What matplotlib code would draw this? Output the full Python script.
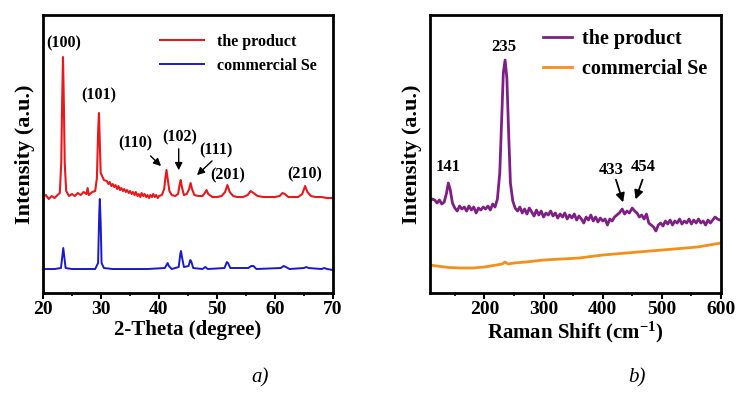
import matplotlib
matplotlib.use('Agg')
from matplotlib import pyplot as plt

# XRD, panel a)  (2-theta, intensity a.u.)
red_x = [20, 20.5, 21, 21.5, 22, 22.5, 22.9, 23.15, 23.3, 23.45, 23.6, 23.75, 24.0, 24.5, 25, 25.5,
         26, 26.5, 27, 27.5, 27.7, 27.9, 28.5, 29.0, 29.3, 29.5, 29.65, 29.8, 29.95, 30.2, 30.5, 31,
         31.3, 31.5, 31.8, 32, 32.3, 32.5, 32.8, 33, 33.3, 33.5, 33.8, 34, 34.3, 34.5, 34.8, 35,
         35.3, 35.5, 35.8, 36, 36.3, 36.5, 36.8, 37, 37.3, 37.5, 37.8, 38, 38.3, 38.5, 38.8, 39,
         39.3, 39.5, 39.8, 40,
         40.5, 40.9, 41.1, 41.3, 41.5, 41.8, 42.2, 42.8, 43.3, 43.55, 43.75, 43.95, 44.3, 44.8, 45.2,
         45.45, 45.7, 46.1, 46.8, 47.5, 47.9, 48.2, 48.5, 49.2, 50, 50.8, 51.4, 51.8, 52.2, 52.8,
         53.5, 54.5, 55.3, 55.8, 56.3, 57, 58, 59, 60, 60.8, 61.3, 61.7, 62.3, 63, 64, 64.7, 65.2,
         65.6, 66.2, 67, 68, 69, 70]
red_y = [96, 98, 94, 97, 95, 98, 100, 130, 190, 236, 190, 130, 102, 97, 99, 97,
         100, 98, 101, 99, 105, 98, 101, 102, 115, 160, 180, 150, 120, 117, 113, 112,
         109, 111, 107, 109, 106, 108, 104, 107, 103, 105, 102, 104, 101, 103, 100, 102,
         99, 101, 98, 101, 97, 99, 96, 100, 97, 99, 96, 98, 95, 98, 96, 99,
         96, 98, 95, 97,
         98, 104, 115, 123, 114, 102, 98, 97, 99, 108, 113, 106, 98, 99, 104,
         110, 104, 98, 97, 97, 100, 103, 99, 96, 96, 97, 101, 108, 101, 97,
         96, 96, 98, 102, 100, 97, 96, 96, 96, 97, 100, 99, 96, 96, 96, 99, 107,
         101, 97, 96, 96, 95, 95]
blue_x = [20, 22, 23.1, 23.3, 23.5, 23.7, 23.9, 25, 27, 29, 29.5, 29.7, 29.8, 29.95, 30.1, 30.5,
          32, 35, 38, 41.0, 41.3, 41.5, 41.7, 42.2, 43.4, 43.7, 43.8, 44.0, 44.3, 45.1, 45.4,
          45.6, 45.9, 47.5, 48.0, 48.4, 51.3, 51.7, 51.9, 52.3, 55.4, 55.9, 56.3, 56.8, 61.0,
          61.5, 61.9, 62.5, 65.0, 65.4, 65.8, 68.0, 68.5, 69, 70]
blue_y = [24, 24, 25, 35, 45, 35, 25, 24, 24, 24, 30, 80, 94, 70, 30, 25,
          24, 24, 24, 25, 28, 30, 27, 24, 26, 40, 42, 35, 26, 27, 33,
          31, 25, 24, 26, 24, 25, 31, 30, 25, 25, 27, 27, 24, 25,
          27, 26, 24, 25, 26, 25, 24, 25, 24, 23]
xrd_labels = ['(100)', '(101)', '(110)', '(102)', '(111)', '(201)', '(210)']
xrd_label_x = [23.6, 29.6, 35.9, 43.6, 49.9, 51.9, 65.2]
xrd_label_y = [250, 198, 150, 156, 143, 118, 119]

# Raman, panel b)  (shift cm-1, intensity a.u.)
purple_x = [108, 112, 116, 120, 124, 128, 132, 136, 139, 142, 146, 150, 154, 158, 162, 166, 170,
            174, 178, 182, 186, 190, 194, 198, 202, 206, 210, 214, 218, 222, 226, 229, 232, 235,
            238, 241, 244, 248, 252, 256, 260, 264, 268, 272, 276, 280, 284, 288, 292, 296, 300,
            304, 308, 312, 316, 320, 324, 328, 332, 336, 340, 344, 348, 352, 356, 360, 364, 368,
            372, 376, 380, 384, 388, 392, 396, 400, 404, 408, 412, 416, 420, 424, 428, 433, 437,
            441, 445, 450, 454, 458, 462, 466, 470, 474, 478, 482, 486, 490, 494, 498, 502, 506,
            510, 514, 518, 522, 526, 530, 534, 538, 542, 546, 550, 554, 558, 562, 566, 570, 574,
            578, 582, 586, 590, 594, 598, 600]
purple_y = [92, 94, 93, 90, 93, 89, 91, 100, 110, 104, 90, 85, 82, 87, 84, 86, 82,
            87, 83, 86, 80, 85, 83, 86, 84, 87, 83, 89, 86, 94, 120, 170, 220, 233,
            215, 160, 110, 92, 85, 82, 86, 80, 84, 79, 85, 81, 77, 83, 78, 82, 76,
            80, 78, 82, 77, 80, 75, 79, 76, 80, 74, 78, 75, 79, 73, 77, 74, 70,
            76, 73, 78, 72, 76, 71, 75, 72, 74, 68, 74, 72, 76, 78, 80, 84, 79,
            82, 80, 85, 82, 80, 76, 78, 74, 79, 70, 68, 66, 62, 68, 70, 67, 72,
            69, 73, 68, 72, 70, 74, 69, 72, 70, 74, 69, 73, 70, 74, 70, 72, 68,
            73, 70, 73, 76, 74, 73, 73]
orange_x = [108, 120, 140, 160, 180, 200, 220, 230, 235, 240, 250, 270, 300, 330, 360, 400, 440,
            480, 520, 560, 600]
orange_y = [28, 27, 25.5, 25, 25, 26, 28, 29, 31, 29, 30, 31, 33, 34, 35, 38, 40,
            42, 44, 46, 50]
raman_labels = ['141', '235', '433', '454']
raman_label_x = [139, 232, 414, 468]
raman_label_y = [126, 246, 123, 126]

plt.rcParams['font.family'] = ['Liberation Serif', 'DejaVu Serif']
plt.rcParams['font.weight'] = 'bold'
plt.rcParams['mathtext.fontset'] = 'custom'
plt.rcParams['mathtext.rm'] = 'Liberation Serif:bold'
plt.rcParams['mathtext.bf'] = 'Liberation Serif:bold'
plt.rcParams['mathtext.default'] = 'bf'

fig = plt.figure(figsize=(7.36, 4.05), dpi=100)
ax1 = fig.add_axes([0.0584, 0.2765, 0.394, 0.6864])
ax2 = fig.add_axes([0.5842, 0.2765, 0.3954, 0.6864])

ax1.plot(red_x, red_y, color='#e8191c', lw=1.5, label='the product')
ax1.plot(blue_x, blue_y, color='#1a1acc', lw=1.4, label='commercial Se')
ax1.set_xlim(20, 70)
ax1.set_ylim(0, 278)
ax1.set_xticks([20, 30, 40, 50, 60, 70])
ax1.set_xticks([25, 35, 45, 55, 65], minor=True)
ax1.set_xlabel('2-Theta (degree)', fontsize=15, fontweight='bold', labelpad=1)
for t, x, y in zip(xrd_labels, xrd_label_x, xrd_label_y):
    ax1.text(x, y, t, ha='center', va='center', fontsize=11.5, fontweight='bold')
arrow_a = dict(arrowstyle='-|>', color='black', lw=1, mutation_scale=11)
ax1.annotate('', xy=(40.7, 125), xytext=(38.2, 139), arrowprops=arrow_a)
ax1.annotate('', xy=(43.4, 120), xytext=(43.4, 147), arrowprops=arrow_a)
ax1.annotate('', xy=(46.2, 116), xytext=(49.5, 134), arrowprops=arrow_a)
ax1.legend(loc='upper right', frameon=False, fontsize=11.5, handlelength=2.8,
           borderaxespad=0.6, bbox_to_anchor=(1.0, 0.99))

ax2.plot(purple_x, purple_y, color='#7f1f86', lw=2, label='the product')
ax2.plot(orange_x, orange_y, color='#f39019', lw=2, label='commercial Se')
ax2.set_xlim(108, 600)
ax2.set_ylim(0, 278)
ax2.set_xticks([200, 300, 400, 500, 600])
ax2.set_xticks([150, 250, 350, 450, 550], minor=True)
ax2.set_xlabel('Raman Shift (cm$^{-1}$)', fontsize=15, fontweight='bold', labelpad=1)
for t, x, y in zip(raman_labels, raman_label_x, raman_label_y):
    ax2.text(x, y, t, ha='center', va='center', fontsize=12, fontweight='bold')
arrow_b = dict(arrowstyle='-|>', color='black', lw=1.3, mutation_scale=13)
ax2.annotate('', xy=(436, 88), xytext=(421, 116), arrowprops=arrow_b)
ax2.annotate('', xy=(454, 91), xytext=(469, 116), arrowprops=arrow_b)
ax2.legend(loc='upper right', frameon=False, fontsize=14.5, handlelength=1.4,
           handletextpad=0.5, borderaxespad=0.3, labelspacing=0.5)

for ax in (ax1, ax2):
    ax.set_yticks([])
    ax.set_ylabel('Intensity (a.u.)', fontsize=16, fontweight='bold', labelpad=6)
    for s in ax.spines.values():
        s.set_linewidth(2)
    ax.tick_params(axis='x', which='major', direction='out', length=4, width=1.5,
                   labelsize=14, pad=2)
    ax.tick_params(axis='x', which='minor', direction='out', length=2.5, width=1.2)

fig.text(0.353, 0.055, 'a)', fontsize=15, style='italic', fontweight='normal', ha='center')
fig.text(0.866, 0.055, 'b)', fontsize=15, style='italic', fontweight='normal', ha='center')

fig.savefig('out.png', dpi=100)
